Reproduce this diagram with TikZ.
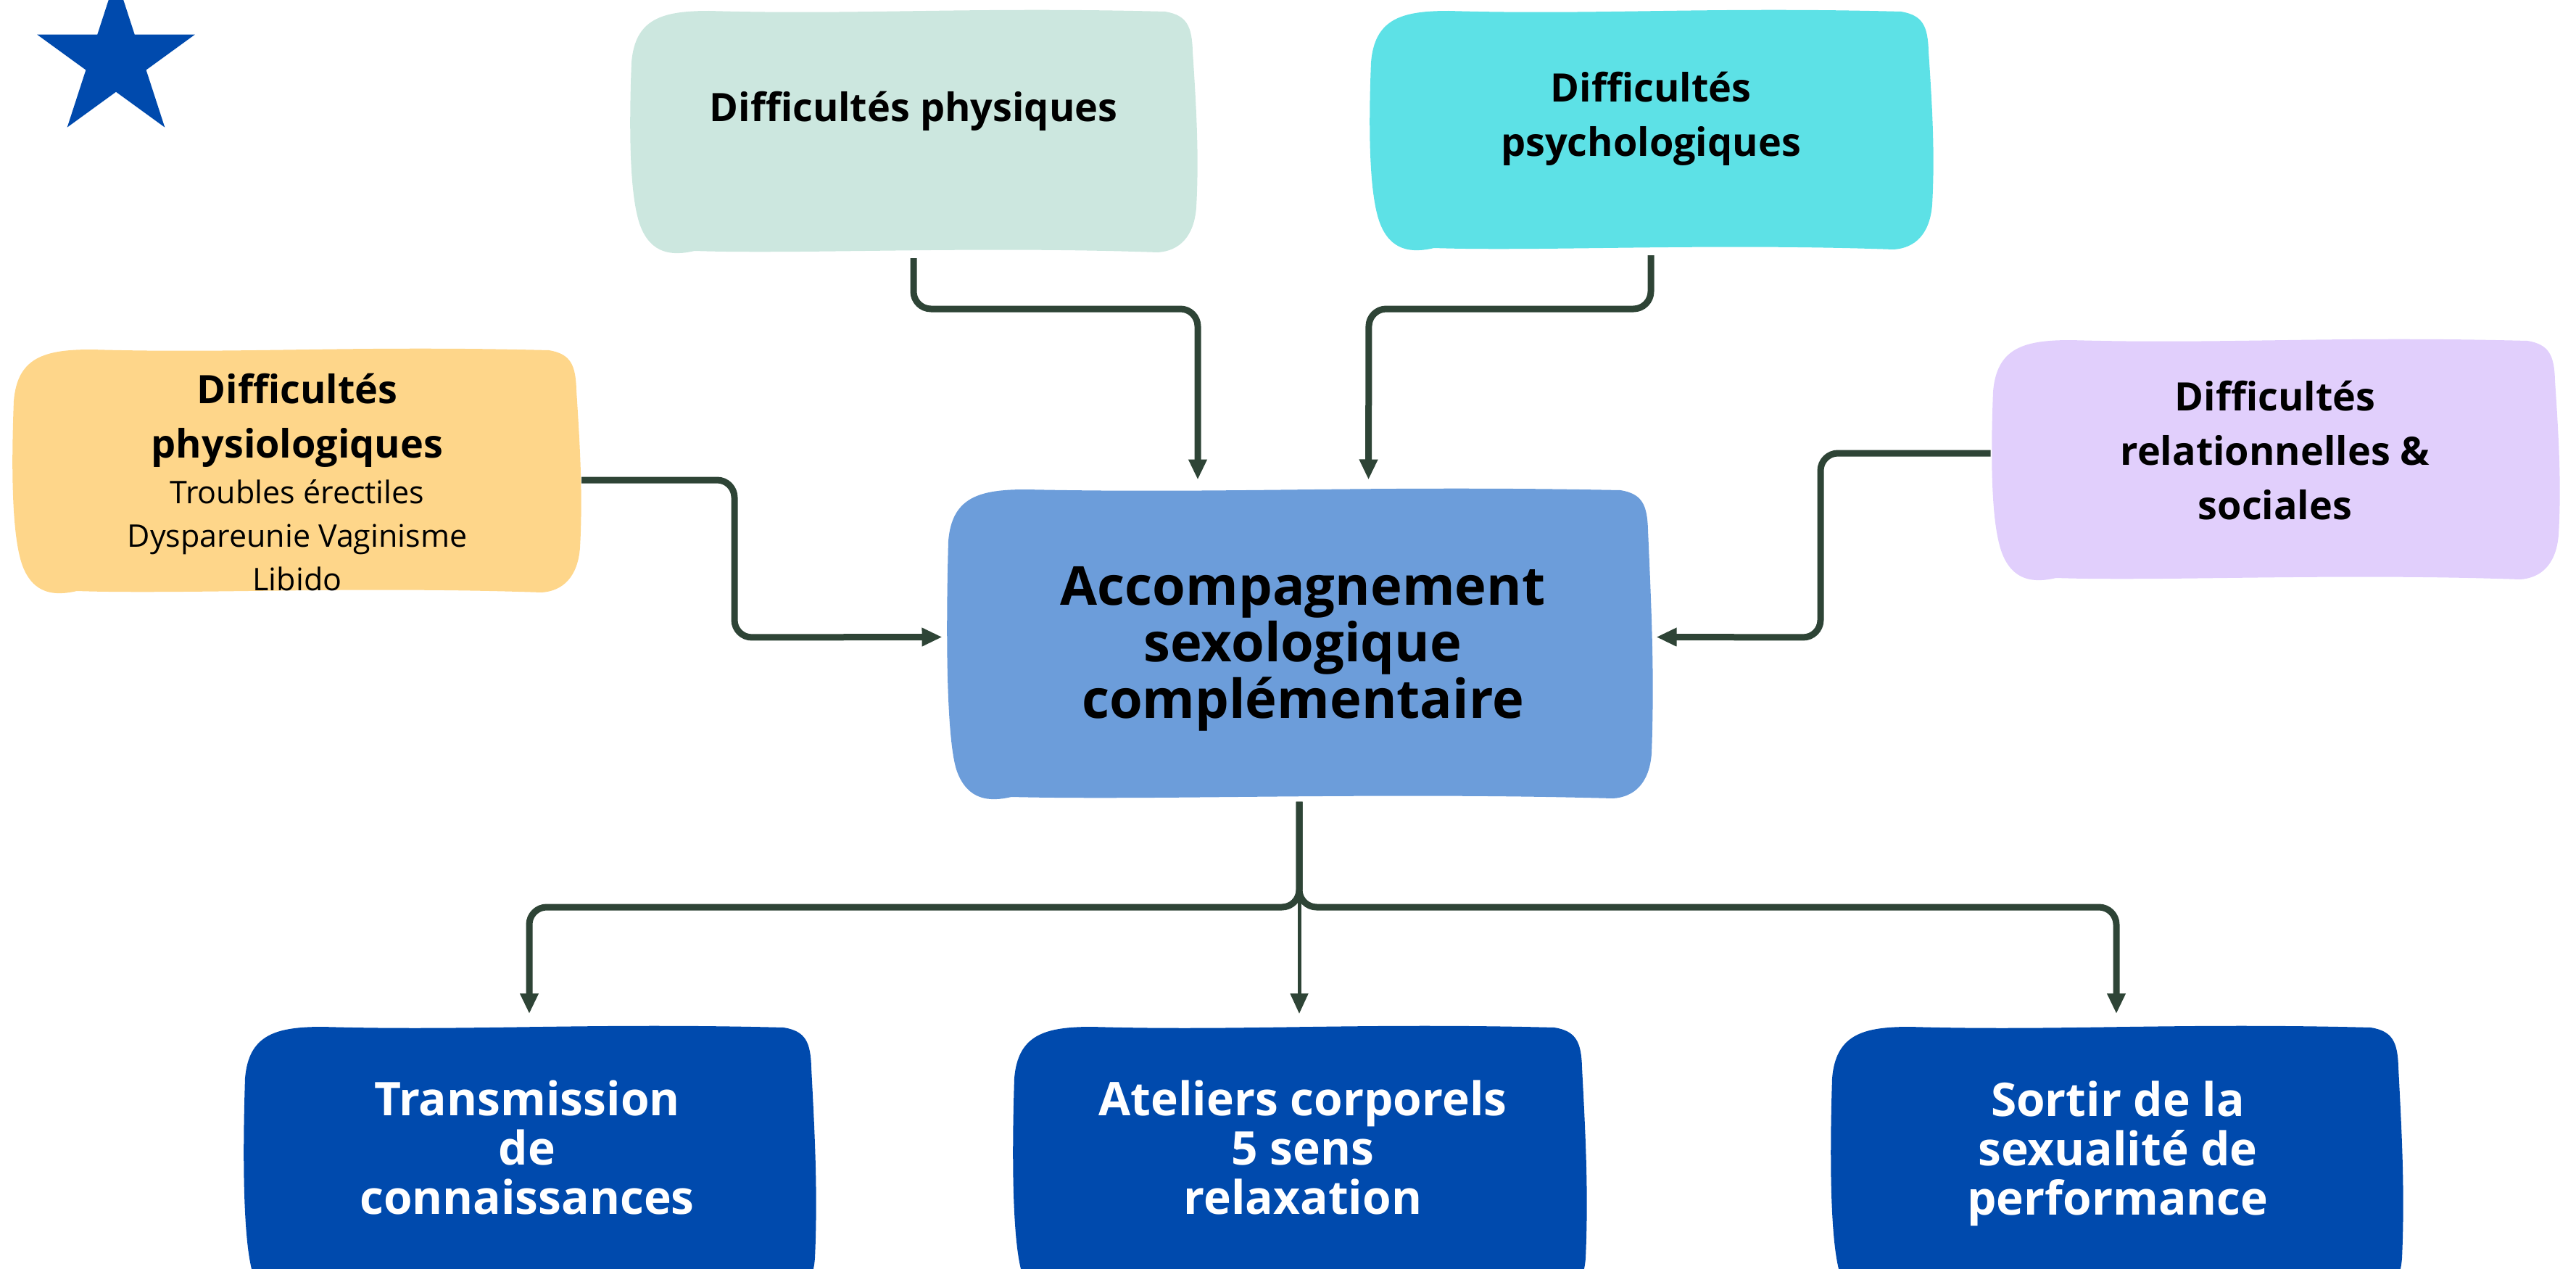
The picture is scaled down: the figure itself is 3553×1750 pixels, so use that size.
\documentclass[tikz,border=0pt]{standalone}
\usepackage{fontspec}
\setmainfont{Open Sans}
\usetikzlibrary{shapes.geometric,arrows.meta,calc}
\definecolor{cphys}{RGB}{204,231,223}
\definecolor{cpsy}{RGB}{93,225,230}
\definecolor{cphysio}{RGB}{254,214,138}
\definecolor{crel}{RGB}{225,207,252}
\definecolor{ccen}{RGB}{108,157,218}
\definecolor{cdark}{RGB}{0,74,173}
\definecolor{cline}{RGB}{46,68,54}
\newcommand{\wobble}[5]{%
\fill[#5] (#1+3,#2+75)
 .. controls (#1+8,#2+15) and (#1+45,#2+4) .. (#1+110,#2+4)
 .. controls ({#1+0.4*(#3-#1)},#2+10) and ({#1+0.6*(#3-#1)},#2-2) .. (#3-45,#2+5)
 .. controls (#3-15,#2+10) and (#3-8,#2+25) .. (#3-7,#2+60)
 .. controls (#3-2,{#2+0.4*(#4-#2)}) and (#3+2,{#2+0.6*(#4-#2)}) .. (#3-2,#4-65)
 .. controls (#3-5,#4-25) and (#3-25,#4-5) .. (#3-55,#4-3)
 .. controls ({#1+0.6*(#3-#1)},#4-12) and ({#1+0.3*(#3-#1)},#4) .. (#1+90,#4-5)
 .. controls (#1+60,#4+2) and (#1+30,#4) .. (#1+15,#4-40)
 .. controls (#1+4,#4-70) and (#1-2,{#2+0.6*(#4-#2)}) .. cycle;}
\tikzset{
  boxarea/.style={inner sep=0pt, outer sep=0pt},
  ttl/.style={font=\bfseries\fontsize{54}{75}\selectfont, align=center, inner sep=0pt},
  sub/.style={font=\fontsize{43}{60}\selectfont, align=center, inner sep=0pt},
  bigttl/.style={font=\bfseries\fontsize{74}{78}\selectfont, align=center, inner sep=0pt},
  botttl/.style={font=\bfseries\fontsize{64}{68}\selectfont, align=center, inner sep=0pt, text=white},
  conn/.style={draw=cline, line width=9pt, rounded corners=24pt, -{Triangle[length=28pt,width=24pt]}},
  thinconn/.style={draw=cline, line width=5pt, -{Triangle[length=28pt,width=24pt]}}
}
\begin{document}
\begin{tikzpicture}[x=1pt,y=-1pt]
\useasboundingbox (0,0) rectangle (3553,1750);
% star
\node[star, star points=5, star point ratio=2.618, fill=cdark, minimum size=229pt, inner sep=0pt] (star) at (160,83) {};
% box areas
\node[boxarea, minimum width=784pt, minimum height=340pt] (phys) at (1260,181) {};
\node[boxarea, minimum width=779pt, minimum height=336pt] (psych) at (2277,179) {};
\node[boxarea, minimum width=786pt, minimum height=342pt] (physio) at (409,649) {};
\node[boxarea, minimum width=785pt, minimum height=337pt] (rel) at (3138,633) {};
\node[boxarea, minimum width=975pt, minimum height=433pt] (cen) at (1792,887) {};
\node[boxarea, minimum width=791pt, minimum height=368pt] (bot1) at (730,1596) {};
\node[boxarea, minimum width=793pt, minimum height=368pt] (bot2) at (1792,1596) {};
\node[boxarea, minimum width=791pt, minimum height=368pt] (bot3) at (2919,1596) {};
% blobs
\wobble{868}{11}{1652}{351}{cphys}
\wobble{1888}{11}{2667}{347}{cpsy}
\wobble{16}{478}{802}{820}{cphysio}
\wobble{2746}{465}{3531}{802}{crel}
\wobble{1305}{671}{2280}{1104}{ccen}
\wobble{335}{1412}{1126}{1800}{cdark}
\wobble{1396}{1412}{2189}{1800}{cdark}
\wobble{2524}{1412}{3315}{1800}{cdark}
% texts
\node[ttl] (physT) at (1260,153) {Difficultés physiques};
\node[ttl] (psychT) at (2277,164) {Difficultés\\psychologiques};
\node[ttl] (physioT) at (410,580) {Difficultés\\physiologiques};
\node[sub] (physioS) at (410,738) {Troubles érectiles\\Dyspareunie Vaginisme\\Libido};
\node[ttl] (relT) at (3138,621) {Difficultés\\relationnelles \&\\sociales};
\node[bigttl] (cenT) at (1797,895) {Accompagnement\\sexologique\\complémentaire};
\node[botttl] (bot1T) at (727,1582) {Transmission\\de\\connaissances};
\node[botttl] (bot2T) at (1797,1582) {Ateliers corporels\\5 sens\\relaxation};
\node[botttl] (bot3T) at (2921,1591) {Sortir de la\\sexualité de\\performance};
% connectors
\draw[conn, shorten >=9pt] ([yshift=-5pt]phys.south) |- (1652,426) -- (cen.north -| phys.east);
\draw[conn, shorten >=9pt] ([yshift=-5pt]psych.south) |- (1888,426) -- (cen.north -| psych.west);
\draw[conn, shorten >=5pt] ([yshift=-13pt]physio.east) -| (1013,879) -- ([yshift=8.5pt]cen.west);
\draw[conn, shorten >=5pt] ([yshift=8pt]rel.west) -| (2511,879) -- ([yshift=8.5pt]cen.east);
\coordinate (split) at (1792,1251);
\draw[conn, shorten >=14pt] ([yshift=-2pt]cen.south) |- (1200,1251) -| (bot1.north);
\draw[conn, shorten >=14pt] ([yshift=-2pt]cen.south) |- (2400,1251) -| (bot3.north);
\draw[thinconn, shorten >=14pt] ([yshift=-2pt]cen.south) -- (split) -- (bot2.north);
\end{tikzpicture}
\end{document}
